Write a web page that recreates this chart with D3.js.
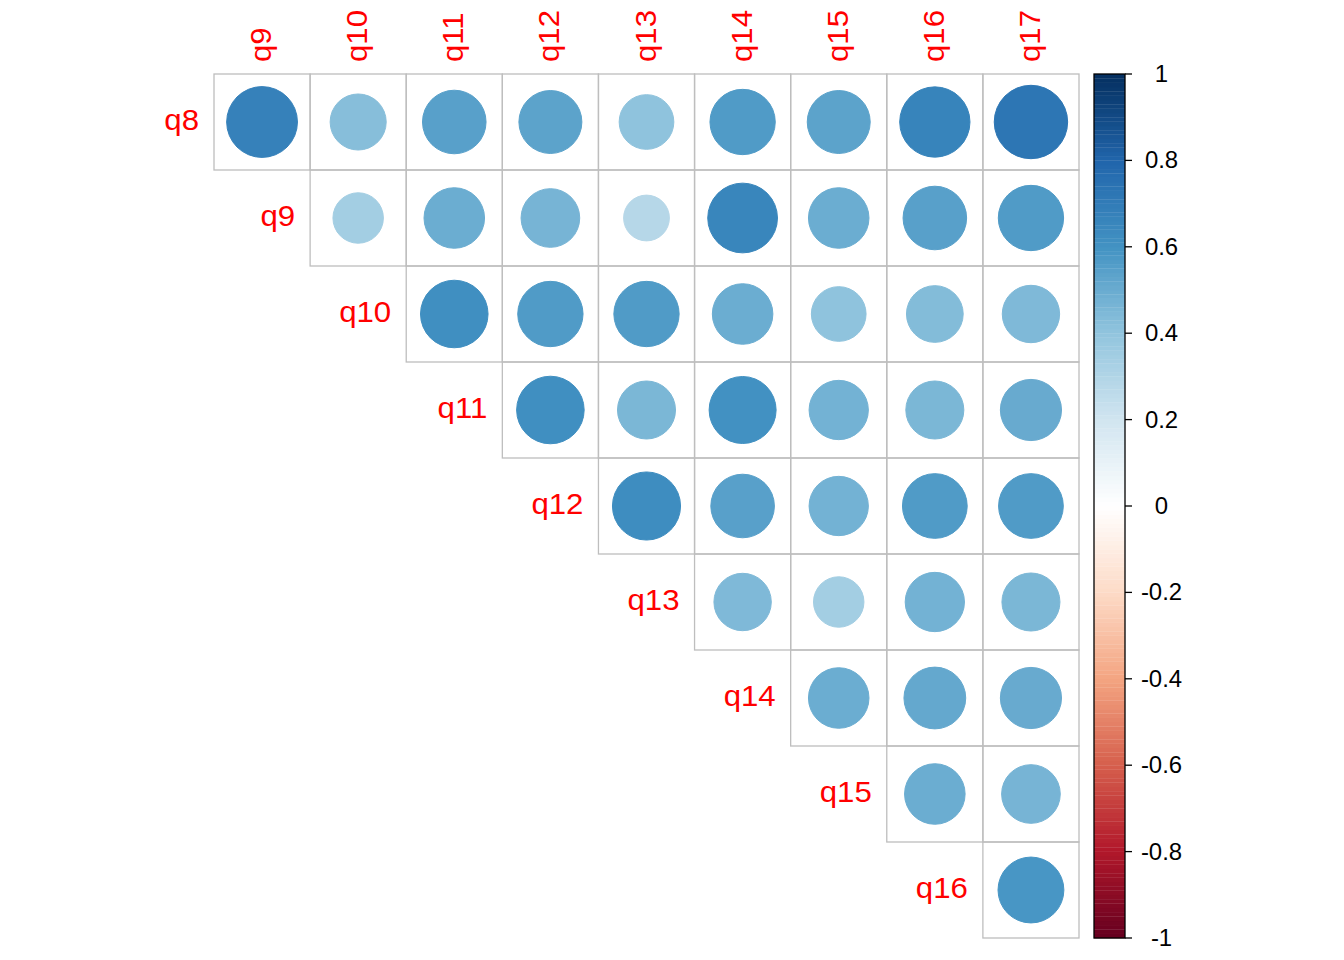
<!DOCTYPE html>
<html><head><meta charset="utf-8">
<script src="https://cdn.jsdelivr.net/npm/d3@7"></script>
<style>html,body{margin:0;padding:0;background:#fff}svg{display:block}</style>
</head><body>
<svg id="chart" width="1344" height="960"></svg>
<script>
const rowVars = ["q8","q9","q10","q11","q12","q13","q14","q15","q16"];
const colVars = ["q9","q10","q11","q12","q13","q14","q15","q16","q17"];
// upper-triangle correlations, row i: values for columns q(i+1)..q17
const corrRows = [
  [0.67, 0.42, 0.54, 0.53, 0.40, 0.57, 0.53, 0.66, 0.72],
  [0.34, 0.49, 0.46, 0.28, 0.65, 0.49, 0.54, 0.57],
  [0.61, 0.57, 0.57, 0.49, 0.40, 0.43, 0.44],
  [0.61, 0.45, 0.60, 0.47, 0.45, 0.50],
  [0.62, 0.54, 0.47, 0.56, 0.56],
  [0.44, 0.34, 0.47, 0.45],
  [0.49, 0.51, 0.50],
  [0.49, 0.46],
  [0.58]
];
const legendTicks = [1, 0.8, 0.6, 0.4, 0.2, 0, -0.2, -0.4, -0.6, -0.8, -1];
const paletteStops = ["#67001F","#B2182B","#D6604D","#F4A582","#FDDBC7","#FFFFFF","#D1E5F0","#92C5DE","#4393C3","#2166AC","#053061"];

const svg = d3.select("#chart");
const n = 200;
const ramp = d3.scaleLinear().domain(d3.range(paletteStops.length).map(i => i/(paletteStops.length-1))).range(paletteStops).interpolate(d3.interpolateRgb);
const pal = d3.range(n).map(i => ramp(i/(n-1)));
const colorOf = v => pal[Math.max(0, Math.min(n-1, Math.floor((v+1)/2*n)))];

const x = d3.scaleBand().domain(colVars).range([214, 1079]).padding(0);
const y = d3.scaleBand().domain(rowVars).range([74, 938]).padding(0);
const cw = x.bandwidth(), ch = y.bandwidth();

const cells = [];
corrRows.forEach((vals, i) => vals.forEach((v, k) => cells.push({r: rowVars[i], c: colVars[i + k], v})));

svg.append("g").selectAll("rect").data(cells).join("rect")
  .attr("x", d => x(d.c)).attr("y", d => y(d.r)).attr("width", cw).attr("height", ch)
  .attr("fill", "none").attr("stroke", "#BEBEBE").attr("stroke-width", 1.3);

svg.append("g").selectAll("circle").data(cells).join("circle")
  .attr("cx", d => x(d.c) + cw/2).attr("cy", d => y(d.r) + ch/2)
  .attr("r", d => 0.45 * Math.sqrt(Math.abs(d.v)) * cw)
  .attr("fill", d => colorOf(d.v)).attr("stroke", d => colorOf(d.v)).attr("stroke-width", 1);

const font = "Liberation Sans, Arial, Helvetica, sans-serif";
const fs = 30, sx = 1.04;
// row labels
svg.append("g").selectAll("text").data(rowVars).join("text")
  .attr("transform", (d, i) => `translate(${x(colVars[i]) - 15},${y(d) + ch/2 + 8}) scale(${sx},1)`)
  .attr("text-anchor", "end").attr("fill", "#FF0000")
  .style("font-family", font).style("font-size", fs + "px")
  .text(d => d);

// column labels
svg.append("g").selectAll("text").data(colVars).join("text")
  .attr("transform", d => `translate(${x(d) + cw/2 + 9},62) rotate(-90) scale(${sx},1)`)
  .attr("text-anchor", "start").attr("fill", "#FF0000")
  .style("font-family", font).style("font-size", fs + "px")
  .text(d => d);

// colour legend
const ly = d3.scaleLinear().domain([-1, 1]).range([938, 74]);
const lx0 = 1094, lx1 = 1125;
const lg = svg.append("g");
lg.selectAll("rect.bin").data(pal).join("rect").attr("class","bin")
  .attr("x", lx0).attr("width", lx1 - lx0)
  .attr("y", (d, i) => ly(-1 + (i+1)*2/n)).attr("height", (d, i) => ly(-1 + i*2/n) - ly(-1 + (i+1)*2/n) + 0.3)
  .attr("fill", d => d);
lg.append("rect").attr("x", lx0).attr("y", ly(1)).attr("width", lx1 - lx0).attr("height", ly(-1) - ly(1))
  .attr("fill", "none").attr("stroke", "#000").attr("stroke-width", 1.3);
lg.selectAll("line").data(legendTicks).join("line")
  .attr("x1", lx1).attr("x2", lx1 + 7).attr("y1", d => ly(d)).attr("y2", d => ly(d))
  .attr("stroke", "#000").attr("stroke-width", 1.3);
lg.selectAll("text").data(legendTicks).join("text")
  .attr("transform", d => `translate(1161.5,${ly(d) + 8}) scale(1.04,1)`)
  .attr("text-anchor", "middle").attr("fill", "#000")
  .style("font-family", font).style("font-size", "23px")
  .text(d => d === 0 ? "0" : String(d));
</script>
</body></html>
